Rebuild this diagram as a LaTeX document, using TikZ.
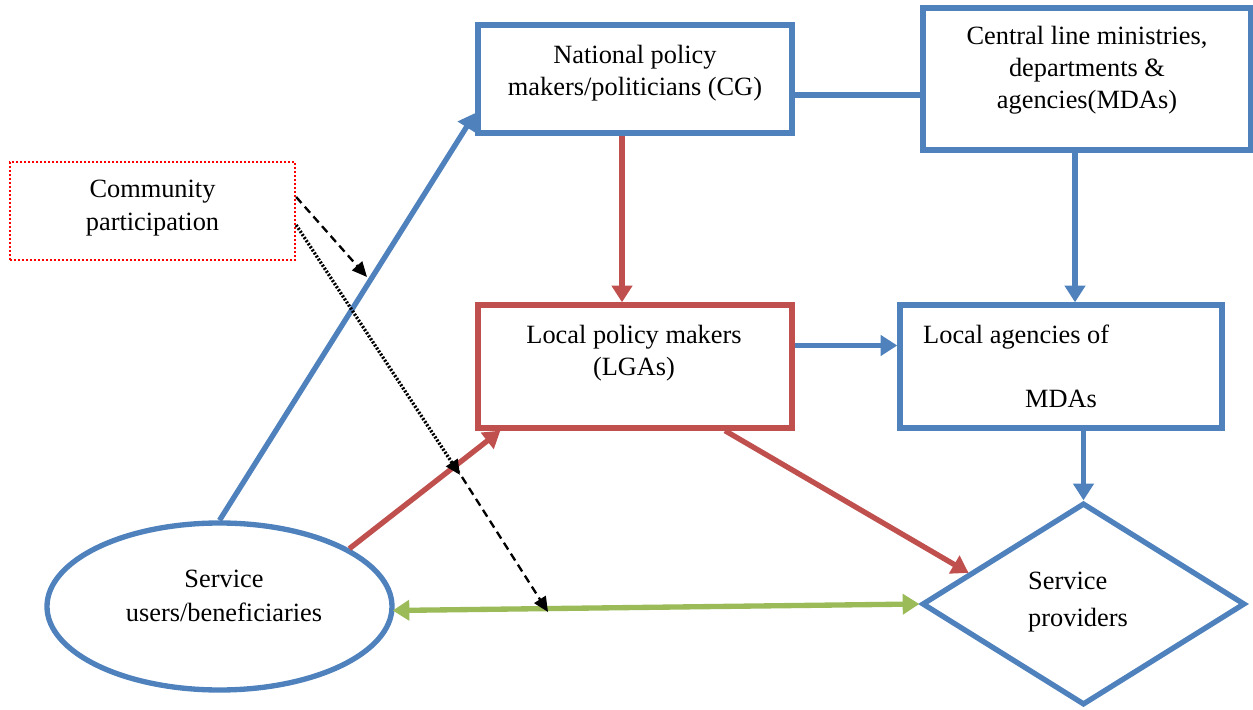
\documentclass[tikz,border=0pt]{standalone}
\usepackage{fontspec}
\setmainfont{Liberation Serif}
\usetikzlibrary{arrows.meta,shapes.geometric,calc}
\definecolor{bblue}{HTML}{4F81BD}
\definecolor{rred}{HTML}{C0504D}
\definecolor{ggreen}{HTML}{9BBB59}
\begin{document}
\begin{tikzpicture}[x=0.03cm,y=-0.03cm,
  box/.style={draw=bblue,line width=0.16cm,rectangle,inner sep=0pt},
  rbox/.style={draw=rred,line width=0.16cm,rectangle,inner sep=0pt},
  txt/.style={font=\fontsize{22.5}{27.5}\selectfont,align=center,inner sep=0pt},
  big/.style={-{Triangle[length=0.5cm,width=0.6cm]},line width=0.16cm},
  thin/.style={-{Triangle[length=0.45cm,width=0.4cm]},line width=0.07cm,black},
  dashedln/.style={dash pattern=on 0.24cm off 0.15cm},
  dottedln/.style={line width=0.1cm,dash pattern=on 0.06cm off 0.05cm}
]
\useasboundingbox (0,0) rectangle (1253,710);
% boxes
\node[draw=red,line width=0.07cm,dash pattern=on 0.06cm off 0.06cm,minimum width=285*0.03cm,minimum height=98*0.03cm,inner sep=0pt] (comm) at (152.5,211) {};
\node[txt] (commt) at (152.5,208) {Community\\participation};
\node[box,minimum width=314*0.03cm,minimum height=108*0.03cm] (nat) at (635,79) {};
\node[txt] (natt) at (635,73) {National policy\\makers/politicians (CG)};
\node[box,minimum width=328*0.03cm,minimum height=142*0.03cm] (cen) at (1087,79) {};
\node[txt] (cent) at (1087,70) {Central line ministries,\\departments \&\\agencies(MDAs)};
\node[rbox,minimum width=314*0.03cm,minimum height=123*0.03cm] (loc) at (635,366.5) {};
\node[txt] (loct) at (634,353) {Local policy makers\\(LGAs)};
\node[box,minimum width=322*0.03cm,minimum height=123*0.03cm] (lag) at (1061,366.5) {};
\node[txt,anchor=west] (lagt1) at (923,337) {Local agencies of};
\node[txt,anchor=west] (lagt2) at (1025,399) {MDAs};
\node[draw=bblue,line width=0.16cm,ellipse,minimum width=345*0.03cm,minimum height=167*0.03cm,inner sep=0pt] (ell) at (219.5,606.5) {};
\node[txt,font=\fontsize{22.5}{29}\selectfont] (ellt) at (224,596) {Service\\users/beneficiaries};
\node[draw=bblue,line width=0.16cm,diamond,minimum width=323*0.03cm,minimum height=202*0.03cm,inner sep=0pt] (dia) at (1083.5,604) {};
\node[txt,align=left,font=\fontsize{22.5}{31}\selectfont] (diat) at (1078,602) {Service\\providers};
% connectors
\draw[big,bblue] (ell.north) -- ($(nat.south west)!0.2!(nat.north west)$);
\draw[bblue,line width=0.16cm] ($(nat.east)+(0,16)$) -- ($(cen.west)+(0,16)$);
\draw[big,rred] ($(nat.south)+(-13,0)$) -- ($(loc.north)+(-13,0)$);
\draw[big,bblue] ($(cen.south)+(-12,0)$) -- ($(lag.north)+(14,0)$);
\draw[big,bblue] ($(loc.east)+(0,-21)$) -- ($(lag.west)+(0,-21)$);
\draw[big,bblue] (dia.north |- lag.south) -- (dia.north);
\draw[big,rred] (ell.24) -- ($(loc.south west)+(25,0)$);
\draw[big,rred] ($(loc.south)+(90,0)$) -- ($(dia.west)!0.3!(dia.north)$);
\draw[{Triangle[length=0.5cm,width=0.6cm]}-{Triangle[length=0.5cm,width=0.6cm]},ggreen,line width=0.16cm] ($(ell.east)+(-2,4)$) -- (dia.west);
% community participation arrows
\coordinate (d1) at (367,277);
\coordinate (d2) at (460,475);
\coordinate (d3s) at (455,466);
\coordinate (d3) at (548,612);
\draw[thin,dashedln] ($(comm.east)+(0,-14)$) -- (d1);
\draw[thin,dottedln] ($(comm.east)+(0,14)$) -- (d2);
\draw[thin,dashedln] (d3s) -- (d3);
\end{tikzpicture}
\end{document}
